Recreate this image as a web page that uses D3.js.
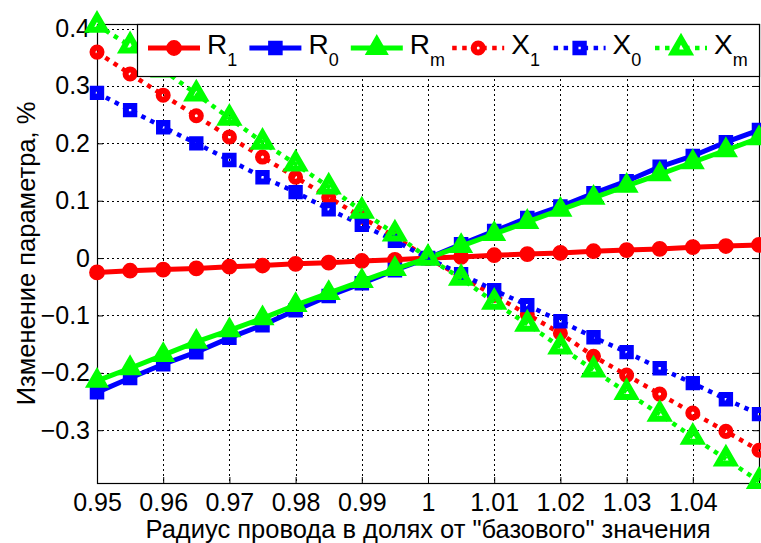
<!DOCTYPE html>
<html lang="ru">
<head>
<meta charset="utf-8">
<title>chart</title>
<style>
  body { margin: 0; background: #fff; }
  svg text { font-family: "Liberation Sans", Arial, sans-serif; fill: #000; }
</style>
</head>
<body>
<svg></svg>
<script src="https://d3js.org/d3.v7.min.js"></script>
<script>
  // data
  var radius = [0.95, 0.955, 0.96, 0.965, 0.97, 0.975, 0.98, 0.985, 0.99, 0.995, 1,
                1.005, 1.01, 1.015, 1.02, 1.025, 1.03, 1.035, 1.04, 1.045, 1.05];
  var r1 = [-0.025, -0.022, -0.020, -0.018, -0.015, -0.013, -0.010, -0.008, -0.005, -0.003, 0,
            0.002, 0.005, 0.007, 0.009, 0.012, 0.014, 0.016, 0.019, 0.021, 0.023];
  var r0 = [-0.234, -0.209, -0.185, -0.164, -0.139, -0.117, -0.091, -0.066, -0.044, -0.021, 0,
            0.024, 0.047, 0.070, 0.090, 0.113, 0.134, 0.159, 0.178, 0.202, 0.223];
  var rm = [-0.214, -0.192, -0.169, -0.146, -0.126, -0.105, -0.082, -0.061, -0.040, -0.019, 0,
            0.021, 0.042, 0.063, 0.084, 0.105, 0.126, 0.146, 0.167, 0.188, 0.209];
  var x1 = [0.359, 0.321, 0.284, 0.248, 0.211, 0.176, 0.141, 0.106, 0.071, 0.037, 0,
            -0.032, -0.065, -0.098, -0.131, -0.171, -0.204, -0.237, -0.270, -0.302, -0.335];
  var x0 = [0.288, 0.258, 0.228, 0.200, 0.171, 0.141, 0.115, 0.085, 0.058, 0.030, 0,
            -0.028, -0.056, -0.082, -0.110, -0.138, -0.164, -0.192, -0.218, -0.246, -0.272];
  var xm = [0.406, 0.370, 0.328, 0.286, 0.244, 0.202, 0.164, 0.124, 0.082, 0.042, 0,
            -0.035, -0.077, -0.115, -0.155, -0.195, -0.234, -0.272, -0.312, -0.350, -0.389];

  var xTicks = [0.95, 0.96, 0.97, 0.98, 0.99, 1, 1.01, 1.02, 1.03, 1.04];
  var xGrid = [0.95, 0.96, 0.97, 0.98, 0.99, 1, 1.01, 1.02, 1.03, 1.04, 1.05];
  var yTicks = [-0.3, -0.2, -0.1, 0, 0.1, 0.2, 0.3, 0.4];

  var seriesNames = ['R', 'R', 'R', 'X', 'X', 'X'];
  var seriesSubs = ['1', '0', 'm', '1', '0', 'm'];

  var xLabel = 'Радиус провода в долях от "базового" значения';
  var yLabel = 'Изменение параметра, %';

  var svgWidth = 761, svgHeight = 543;
  var pLeft = 97, pRight = 759, pTop = 24, pBottom = 483;
  var fontFam = '"Liberation Sans", Arial, sans-serif';

  var svg = d3.select('svg')
      .attr('width', svgWidth)
      .attr('height', svgHeight);

  var x = d3.scaleLinear().domain([0.95, 1.05]).range([pLeft, pRight]);
  var y = d3.scaleLinear().domain([-0.392, 0.408]).range([pBottom, pTop]);

  // grid
  var grid = svg.append('g')
      .attr('stroke', '#000')
      .attr('stroke-width', 1)
      .attr('stroke-dasharray', '2,3');
  grid.selectAll('.gx').data(xGrid).enter().append('line')
      .attr('x1', d => Math.round(x(d)) + 0.5).attr('x2', d => Math.round(x(d)) + 0.5)
      .attr('y1', pTop).attr('y2', pBottom);
  grid.selectAll('.gy').data(yTicks).enter().append('line')
      .attr('y1', d => Math.round(y(d)) + 0.5).attr('y2', d => Math.round(y(d)) + 0.5)
      .attr('x1', pLeft).attr('x2', pRight);

  // axes (ticks inside, box all round)
  var axB = svg.append('g').attr('transform', 'translate(0,' + pBottom + ')')
      .call(d3.axisBottom(x).tickValues(xTicks).tickSize(-6).tickPadding(10)
        .tickFormat(d => d === 1 ? '1' : d3.format('.2f')(d)));
  var axL = svg.append('g').attr('transform', 'translate(' + pLeft + ',0)')
      .call(d3.axisLeft(y).tickValues(yTicks).tickSize(-6).tickPadding(7)
        .tickFormat(d => d === 0 ? '0' : d3.format('.1f')(d)));
  svg.append('g').attr('transform', 'translate(0,' + pTop + ')')
      .call(d3.axisTop(x).tickValues(xTicks).tickSize(-6).tickFormat(''));
  svg.append('g').attr('transform', 'translate(' + pRight + ',0)')
      .call(d3.axisRight(y).tickValues(yTicks).tickSize(-6).tickFormat(''));
  svg.selectAll('.domain').remove();
  svg.selectAll('.tick line').attr('stroke', '#000');
  axB.selectAll('text').attr('font-size', 25).attr('fill', '#000').attr('font-family', fontFam);
  axL.selectAll('text').attr('font-size', 25).attr('fill', '#000').attr('font-family', fontFam);

  svg.append('rect')
      .attr('x', pLeft + 0.5).attr('y', pTop + 0.5)
      .attr('width', pRight - pLeft).attr('height', pBottom - pTop)
      .attr('fill', 'none').attr('stroke', '#000').attr('stroke-width', 1.2);

  // series
  var series = [
    { values: r1, color: '#ff0000', dotted: false, symbol: d3.symbolCircle },
    { values: r0, color: '#0000ff', dotted: false, symbol: d3.symbolSquare },
    { values: rm, color: '#00ff00', dotted: false, symbol: d3.symbolTriangle },
    { values: x1, color: '#ff0000', dotted: true, symbol: d3.symbolCircle },
    { values: x0, color: '#0000ff', dotted: true, symbol: d3.symbolSquare },
    { values: xm, color: '#00ff00', dotted: true, symbol: d3.symbolTriangle }
  ];

  function markerPath(s) {
    var size;
    if (s.dotted) {
      size = s.symbol === d3.symbolTriangle ? 110 : (s.symbol === d3.symbolCircle ? 64 : 70);
    } else {
      size = s.symbol === d3.symbolTriangle ? 200 : (s.symbol === d3.symbolCircle ? 160 : 170);
    }
    return d3.symbol().type(s.symbol).size(size)();
  }

  function styleMarker(sel, s) {
    sel.attr('d', markerPath(s))
      .attr('fill', s.dotted ? 'none' : s.color)
      .attr('stroke', s.color)
      .attr('stroke-width', s.dotted ? 6 : 1.5);
  }

  var line = d3.line()
      .x((d, i) => x(radius[i]))
      .y(d => y(d));

  series.forEach(function (s) {
    var g = svg.append('g');
    g.append('path')
        .datum(s.values)
        .attr('d', line)
        .attr('fill', 'none')
        .attr('stroke', s.color)
        .attr('stroke-width', s.dotted ? 4.5 : 5)
        .attr('stroke-dasharray', s.dotted ? '4.5,5.5' : null);
    g.selectAll('.m').data(s.values).enter().append('path')
        .attr('transform', (d, i) => 'translate(' + x(radius[i]) + ',' + y(d) + ')')
        .call(styleMarker, s);
  });

  // legend
  var legend = svg.append('g');
  legend.append('rect')
      .attr('x', 137.5).attr('y', pTop + 0.5)
      .attr('width', pRight - 137).attr('height', 52)
      .attr('fill', '#fff').attr('stroke', '#000').attr('stroke-width', 1.2);

  series.forEach(function (s, i) {
    var lx = 148 + i * 101.4, ly = 48;
    legend.append('line')
        .attr('x1', lx).attr('x2', lx + 52).attr('y1', ly).attr('y2', ly)
        .attr('stroke', s.color).attr('stroke-width', s.dotted ? 4.5 : 5)
        .attr('stroke-dasharray', s.dotted ? '4.5,5.5' : null);
    legend.append('path')
        .attr('transform', 'translate(' + (lx + 26) + ',' + ly + ')')
        .call(styleMarker, s);
    var t = legend.append('text')
        .attr('x', lx + 59).attr('y', 54)
        .attr('font-size', 28);
    t.append('tspan').text(seriesNames[i]);
    t.append('tspan').attr('dy', 12).attr('font-size', 18).text(seriesSubs[i]);
  });

  // axis labels
  svg.append('text')
      .attr('x', (pLeft + pRight) / 2).attr('y', 538)
      .attr('text-anchor', 'middle').attr('font-size', 25.5)
      .text(xLabel);
  svg.append('text')
      .attr('transform', 'translate(35,' + ((pTop + pBottom) / 2) + ') rotate(-90)')
      .attr('text-anchor', 'middle').attr('font-size', 25.5)
      .text(yLabel);
</script>
</body>
</html>
